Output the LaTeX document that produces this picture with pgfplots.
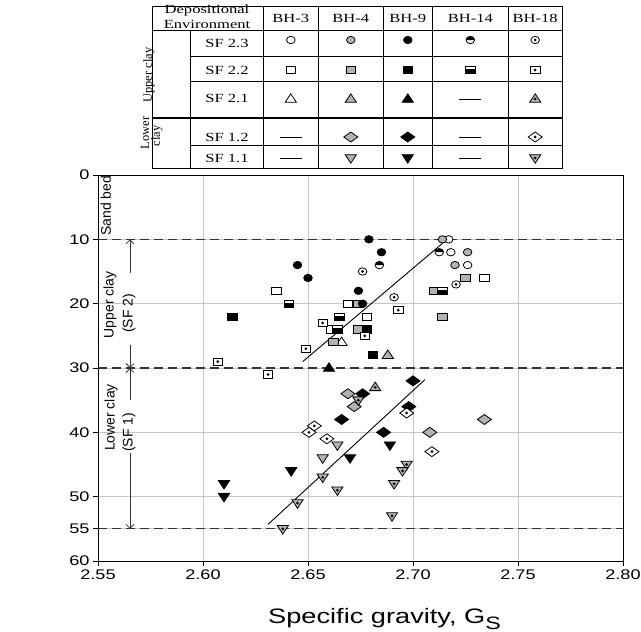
\documentclass[border=0pt]{standalone}
\usepackage{fontspec}
\setmainfont{Liberation Sans}
\newfontfamily\axfont[FakeStretch=1.3]{Liberation Sans}
\newfontfamily\tabfont[FakeStretch=1.33]{Liberation Serif}
\newfontfamily\rotfont{Liberation Serif}
\usepackage{pgfplots}
\pgfplotsset{compat=1.18}
\usetikzlibrary{arrows.meta}

% marker shapes (half width / half height in bp)
\newcommand\mdot{\begin{pgfscope}\pgfsetfillcolor{black}\pgfpathcircle{\pgfpointorigin}{1.5bp}\pgfusepathqfill\end{pgfscope}}
\newcommand\pcirc{\pgfpathellipse{\pgfpointorigin}{\pgfqpoint{4.3bp}{0bp}}{\pgfqpoint{0bp}{3.7bp}}}
\newcommand\psq{\pgfpathrectangle{\pgfqpoint{-4.7bp}{-3.6bp}}{\pgfqpoint{9.4bp}{7.2bp}}}
\newcommand\ptri{\pgfpathmoveto{\pgfqpoint{0bp}{5.2bp}}\pgfpathlineto{\pgfqpoint{5.6bp}{-3.3bp}}\pgfpathlineto{\pgfqpoint{-5.6bp}{-3.3bp}}\pgfpathclose}
\newcommand\pitri{\pgfpathmoveto{\pgfqpoint{0bp}{-5.2bp}}\pgfpathlineto{\pgfqpoint{5.6bp}{3.3bp}}\pgfpathlineto{\pgfqpoint{-5.6bp}{3.3bp}}\pgfpathclose}
\newcommand\pdia{\pgfpathmoveto{\pgfqpoint{0bp}{5bp}}\pgfpathlineto{\pgfqpoint{7bp}{0bp}}\pgfpathlineto{\pgfqpoint{0bp}{-5bp}}\pgfpathlineto{\pgfqpoint{-7bp}{0bp}}\pgfpathclose}
\pgfdeclareplotmark{circ}{\pcirc\pgfusepathqfillstroke}
\pgfdeclareplotmark{sq}{\psq\pgfusepathqfillstroke}
\pgfdeclareplotmark{tri}{\ptri\pgfusepathqfillstroke}
\pgfdeclareplotmark{itri}{\pitri\pgfusepathqfillstroke}
\pgfdeclareplotmark{dia}{\pdia\pgfusepathqfillstroke}
\pgfdeclareplotmark{dcirc}{\pcirc\pgfusepathqfillstroke\mdot}
\pgfdeclareplotmark{dsq}{\psq\pgfusepathqfillstroke\mdot}
\pgfdeclareplotmark{dtri}{\ptri\pgfusepathqfillstroke\mdot}
\pgfdeclareplotmark{ditri}{\pitri\pgfusepathqfillstroke\mdot}
\pgfdeclareplotmark{ddia}{\pdia\pgfusepathqfillstroke\mdot}
\pgfdeclareplotmark{hcirc}{%
  \begin{pgfscope}\pgfsetfillcolor{white}\pcirc\pgfusepathqfill\end{pgfscope}%
  \begin{pgfscope}\pgfsetfillcolor{black}%
    \pgfpathmoveto{\pgfqpoint{4.3bp}{0bp}}\pgfpatharc{0}{180}{4.3bp and 3.7bp}\pgfpathclose\pgfusepathqfill
  \end{pgfscope}%
  \pcirc\pgfusepathqstroke}
\pgfdeclareplotmark{hsq}{%
  \begin{pgfscope}\pgfsetfillcolor{white}\psq\pgfusepathqfill\end{pgfscope}%
  \begin{pgfscope}\pgfsetfillcolor{black}%
    \pgfpathrectangle{\pgfqpoint{-4.7bp}{-3.6bp}}{\pgfqpoint{9.4bp}{4.6bp}}\pgfusepathqfill
  \end{pgfscope}%
  \psq\pgfusepathqstroke}

\definecolor{gfill}{RGB}{178,178,178}

\newcommand\sym[3]{\draw[black, line width=0.8bp] plot[only marks, mark=#2, mark options={fill=#3}] coordinates {(#1)};}
\newcommand\nodash[1]{\draw[line width=0.8bp] ([xshift=-11bp]#1) -- ([xshift=11bp]#1);}

\begin{document}
\begin{tikzpicture}
\path[use as bounding box] (0,0) rectangle (641bp,-632bp);

\begin{axis}[
  at={(98bp,-561bp)}, anchor=south west,
  scale only axis, width=525bp, height=386bp,
  xmin=2.55, xmax=2.80, ymin=0, ymax=60, y dir=reverse,
  xtick={2.55,2.60,2.65,2.70,2.75,2.80},
  ytick={0,10,20,30,40,50,55,60},
  xticklabel style={/pgf/number format/.cd, fixed, fixed zerofill, precision=2},
  /pgf/number format/assume math mode=true,
  tick label style={font=\axfont\fontsize{14}{16}\selectfont, text=black},
  grid=major, major grid style={draw=black!22, line width=1bp},
  axis line style={line width=1bp},
  major tick style={black, line width=1bp},
  tick align=outside, major tick length=5bp,
  xtick pos=bottom, ytick pos=left,
  clip=false,
]
% zone boundaries
\addplot[black!80, line width=1.2bp, dash pattern=on 9bp off 5bp] coordinates {(2.55,10) (2.80,10)};
\addplot[black!80, line width=1.2bp, dash pattern=on 9bp off 5bp] coordinates {(2.55,30) (2.80,30)};
\addplot[black!80, line width=1.2bp, dash pattern=on 9bp off 5bp] coordinates {(2.55,55) (2.80,55)};
% trend lines
\addplot[black, line width=0.9bp] coordinates {(2.6475,29) (2.717,9.8)};
\addplot[black, line width=0.9bp] coordinates {(2.631,54.3) (2.7057,31.8)};

% BH-3 (white)
\addplot[only marks, black, line width=0.8bp, mark=circ, mark options={fill=white}] coordinates {
 (2.717,10) (2.718,12) (2.726,14)};
\addplot[only marks, black, line width=0.8bp, mark=sq, mark options={fill=white}] coordinates {
 (2.734,16) (2.635,18) (2.669,20) (2.678,22) (2.661,24)};
\addplot[only marks, black, line width=0.8bp, mark=tri, mark options={fill=white}] coordinates {
 (2.666,26)};
% BH-4 (grey)
\addplot[only marks, black, line width=0.8bp, mark=circ, mark options={fill=gfill}] coordinates {
 (2.714,10) (2.726,12) (2.720,14)};
\addplot[only marks, black, line width=0.8bp, mark=sq, mark options={fill=gfill}] coordinates {
 (2.725,16) (2.710,18) (2.674,20) (2.714,22) (2.674,24) (2.662,26)};
\addplot[only marks, black, line width=0.8bp, mark=tri, mark options={fill=gfill}] coordinates {
 (2.688,28)};
\addplot[only marks, black, line width=0.8bp, mark=dia, mark options={fill=gfill}] coordinates {
 (2.669,34) (2.672,36) (2.734,38) (2.708,40)};
\addplot[only marks, black, line width=0.8bp, mark=itri, mark options={fill=gfill}] coordinates {
 (2.664,42) (2.657,44)};
% BH-9 (black)
\addplot[only marks, black, line width=0.8bp, mark=circ, mark options={fill=black}] coordinates {
 (2.679,10) (2.685,12) (2.645,14) (2.650,16) (2.674,18) (2.676,20)};
\addplot[only marks, black, line width=0.8bp, mark=sq, mark options={fill=black}] coordinates {
 (2.614,22) (2.678,24) (2.681,28)};
\addplot[only marks, black, line width=0.8bp, mark=tri, mark options={fill=black}] coordinates {
 (2.660,30)};
\addplot[only marks, black, line width=0.8bp, mark=dia, mark options={fill=black}] coordinates {
 (2.700,32) (2.676,34) (2.698,36) (2.666,38) (2.686,40)};
\addplot[only marks, black, line width=0.8bp, mark=itri, mark options={fill=black}] coordinates {
 (2.689,42) (2.670,44) (2.642,46) (2.610,48) (2.610,50)};
% BH-14 (half filled)
\addplot[only marks, black, line width=0.8bp, mark=hcirc] coordinates {
 (2.7125,12) (2.684,14)};
\addplot[only marks, black, line width=0.8bp, mark=hsq] coordinates {
 (2.714,18) (2.641,20) (2.665,22) (2.664,24)};
% BH-18 (dotted)
\addplot[only marks, black, line width=0.8bp, mark=dcirc, mark options={fill=white}] coordinates {
 (2.676,15) (2.7205,17) (2.691,19)};
\addplot[only marks, black, line width=0.8bp, mark=dsq, mark options={fill=white}] coordinates {
 (2.693,21) (2.657,23) (2.677,25) (2.649,27) (2.607,29) (2.631,31)};
\addplot[only marks, black, line width=0.8bp, mark=dtri, mark options={fill=gfill}] coordinates {
 (2.682,33)};
\addplot[only marks, black, line width=0.8bp, mark=ddia, mark options={fill=white}] coordinates {
 (2.697,37) (2.653,39) (2.6505,40) (2.659,41) (2.709,43)};
\addplot[only marks, black, line width=0.8bp, mark=ditri, mark options={fill=gfill}] coordinates {
 (2.674,35) (2.697,45) (2.695,46) (2.657,47) (2.691,48) (2.664,49) (2.645,51) (2.690,53) (2.638,55)};

% zone annotations
\draw[black!80, line width=0.8bp, -{Straight Barb[length=4bp]}] (axis cs:2.5652,15.3) -- (axis cs:2.5652,10);
\draw[black!80, line width=0.8bp, -{Straight Barb[length=4bp]}] (axis cs:2.5652,26.4) -- (axis cs:2.5652,30);
\draw[black!80, line width=0.8bp, -{Straight Barb[length=4bp]}] (axis cs:2.5652,35) -- (axis cs:2.5652,30);
\draw[black!80, line width=0.8bp, -{Straight Barb[length=4bp]}] (axis cs:2.5652,43.2) -- (axis cs:2.5652,55);
\node[rotate=90, inner sep=0pt, font=\fontsize{14}{16}\selectfont] at (axis cs:2.5538,4.8) {Sand bed};
\node[rotate=90, inner sep=0pt, font=\fontsize{14}{16}\selectfont] at (axis cs:2.5557,20.2) {Upper clay};
\node[rotate=90, inner sep=0pt, font=\fontsize{14}{16}\selectfont] at (axis cs:2.5648,21.5) {(SF 2)};
\node[rotate=90, inner sep=0pt, font=\fontsize{14}{16}\selectfont] at (axis cs:2.5562,37.7) {Lower clay};
\node[rotate=90, inner sep=0pt, font=\fontsize{14}{16}\selectfont] at (axis cs:2.5648,40) {(SF 1)};
\end{axis}

% x label
\node[anchor=base west, inner sep=0pt, font=\axfont\fontsize{21}{24}\selectfont] at (268bp,-623bp)
  {Specific gravity, G\raisebox{-6bp}{\fontsize{18}{18}\selectfont S}};

% legend table
\begin{scope}[x=1bp, y=-1bp]
\draw[line width=0.8bp] (152.7,6) rectangle (562,168);
\draw[line width=0.8bp] (152.7,30.7) -- (562,30.7);
\draw[line width=0.8bp] (190.7,56) -- (562,56);
\draw[line width=0.8bp] (190.7,81.7) -- (562,81.7);
\draw[line width=1.8bp] (152.7,118.3) -- (562,118.3);
\draw[line width=0.8bp] (190.7,145) -- (562,145);
\draw[line width=0.8bp] (190.7,30.7) -- (190.7,168);
\foreach \xx in {263.3,318.3,383.3,432.3,508.3} \draw[line width=0.8bp] (\xx,6) -- (\xx,168);

\begin{scope}[font=\tabfont\fontsize{12.5}{13}\selectfont, every node/.style={inner sep=0pt}]
\node at (207,11) {Depositional};
\node at (207,24.5) {Environment};
\node at (290.8,18.3) {BH-3};
\node at (350.8,18.3) {BH-4};
\node at (407.8,18.3) {BH-9};
\node at (470.3,18.3) {BH-14};
\node at (535.2,18.3) {BH-18};
\node at (227,43) {SF 2.3};
\node at (227,70) {SF 2.2};
\node at (227,98) {SF 2.1};
\node at (227,137) {SF 1.2};
\node at (227,158) {SF 1.1};
\end{scope}
\node[rotate=90, inner sep=0pt, font=\rotfont\fontsize{12.5}{13}\selectfont] at (149,75) {Upper clay};
\node[rotate=90, inner sep=0pt, font=\rotfont\fontsize{12.5}{13}\selectfont] at (145,133) {Lower};
\node[rotate=90, inner sep=0pt, font=\rotfont\fontsize{12.5}{13}\selectfont] at (157,136) {clay};

% SF 2.3
\sym{290.8,40}{circ}{white} \sym{350.8,40}{circ}{gfill} \sym{407.8,40}{circ}{black}
\sym{470.3,40}{hcirc}{white} \sym{535.2,40}{dcirc}{white}
% SF 2.2
\sym{290.8,70}{sq}{white} \sym{350.8,70}{sq}{gfill} \sym{407.8,70}{sq}{black}
\sym{470.3,70}{hsq}{white} \sym{535.2,70}{dsq}{white}
% SF 2.1
\sym{290.8,99}{tri}{white} \sym{350.8,99}{tri}{gfill} \sym{407.8,99}{tri}{black}
\nodash{470.3,99} \sym{535.2,99}{dtri}{gfill}
% SF 1.2
\nodash{290.8,137} \sym{350.8,137}{dia}{gfill} \sym{407.8,137}{dia}{black}
\nodash{470.3,137} \sym{535.2,137}{ddia}{white}
% SF 1.1
\nodash{290.8,158} \sym{350.8,158}{itri}{gfill} \sym{407.8,158}{itri}{black}
\nodash{470.3,158} \sym{535.2,158}{ditri}{gfill}
\end{scope}
\end{tikzpicture}
\end{document}
